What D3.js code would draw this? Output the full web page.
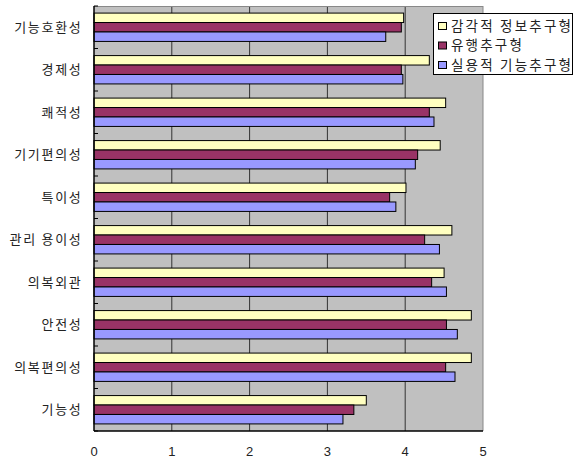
<!DOCTYPE html>
<html>
<head>
<meta charset="utf-8">
<script src="https://cdn.jsdelivr.net/npm/d3@7"></script>
<style>
  body { margin: 0; background: #fff; }
  text { font-family: "Noto Sans CJK KR", "Noto Sans", sans-serif; fill: #222; }
</style>
</head>
<body>
<svg id="chart"></svg>
<script>
// data, top to bottom as drawn
const categories = ["기능호환성", "경제성", "쾌적성", "기기편의성", "특이성", "관리 용이성", "의복외관", "안전성", "의복편의성", "기능성"];
const seriesNames = ["감각적 정보추구형", "유행추구형", "실용적 기능추구형"];
const sensory = [3.98, 4.31, 4.52, 4.45, 4.01, 4.60, 4.50, 4.85, 4.85, 3.50];
const trend = [3.95, 3.95, 4.31, 4.16, 3.80, 4.25, 4.34, 4.53, 4.52, 3.34];
const practical = [3.75, 3.97, 4.37, 4.13, 3.88, 4.44, 4.53, 4.67, 4.64, 3.20];
const xTicks = [0, 1, 2, 3, 4, 5];

const colors = ["#FFFFC0", "#993366", "#9999FF"];
const seriesValues = [sensory, trend, practical];

const width = 579, height = 463;
const margin = { left: 94, right: 96, top: 6, bottom: 32 };
const visWidth = width - margin.left - margin.right;
const visHeight = height - margin.top - margin.bottom;

const svg = d3.select('svg#chart').attr('width', width).attr('height', height);
const viz = svg.append('g').attr('transform', 'translate(' + margin.left + ',' + margin.top + ')');

const x = d3.scaleLinear().domain([0, 5]).range([0, visWidth]);
const y = d3.scaleBand().domain(categories).range([0, visHeight]).paddingInner(0.333).paddingOuter(0.1667);
const ySub = d3.scaleBand().domain(seriesNames).range([0, y.bandwidth()]);

// plot background
viz.append('rect').attr('x', 0).attr('y', 0).attr('width', visWidth).attr('height', visHeight)
  .attr('fill', '#C0C0C0');

// gridlines
viz.selectAll('line.grid').data(xTicks.slice(1)).enter().append('line')
  .attr('class', 'grid')
  .attr('x1', d => x(d)).attr('x2', d => x(d))
  .attr('y1', 0).attr('y2', visHeight)
  .attr('stroke', d => d === 5 ? '#888' : '#333').attr('stroke-width', 1);

// top border
viz.append('line').attr('x1', 0).attr('x2', visWidth).attr('y1', 0.5).attr('y2', 0.5)
  .attr('stroke', '#888');

// bars
const groups = viz.selectAll('g.cat').data(categories).enter().append('g')
  .attr('class', 'cat')
  .attr('transform', d => 'translate(0,' + y(d) + ')');

groups.selectAll('rect').data((c, i) => seriesNames.map((s, j) => ({ s: s, v: seriesValues[j][i], j: j })))
  .enter().append('rect')
  .attr('x', 0)
  .attr('y', d => ySub(d.s))
  .attr('width', d => x(d.v))
  .attr('height', ySub.bandwidth())
  .attr('fill', d => colors[d.j])
  .attr('stroke', '#000').attr('stroke-width', 1);

// left axis with inside ticks at category boundaries
viz.append('line').attr('x1', 0).attr('x2', 0).attr('y1', 0).attr('y2', visHeight)
  .attr('stroke', '#000').attr('stroke-width', 1.5);
const step = visHeight / categories.length;
viz.selectAll('line.ytick').data(d3.range(categories.length + 1)).enter().append('line')
  .attr('class', 'ytick')
  .attr('x1', 0).attr('x2', 4)
  .attr('y1', d => d * step).attr('y2', d => d * step)
  .attr('stroke', '#000');

viz.selectAll('text.cat').data(categories).enter().append('text')
  .attr('class', 'cat')
  .attr('x', -11.5)
  .attr('y', d => y(d) + y.bandwidth() / 2)
  .attr('dy', '0.35em')
  .attr('text-anchor', 'end')
  .style('font-size', '13px')
  .style('letter-spacing', '1.7px')
  .text(d => d);

// bottom axis
viz.append('line').attr('x1', 0).attr('x2', visWidth).attr('y1', visHeight).attr('y2', visHeight)
  .attr('stroke', '#000').attr('stroke-width', 1.5);
viz.selectAll('text.xt').data(xTicks).enter().append('text')
  .attr('class', 'xt')
  .attr('x', d => x(d))
  .attr('y', visHeight + 25)
  .attr('text-anchor', 'middle')
  .style('font-family', '"Liberation Sans", Arial, sans-serif')
  .style('font-size', '13px')
  .text(d => d);

// legend
const legend = svg.append('g').attr('transform', 'translate(433,13)');
legend.append('rect').attr('x', 0.5).attr('y', 0.5).attr('width', 139).attr('height', 61)
  .attr('fill', '#fff').attr('stroke', '#000');
const item = legend.selectAll('g.item').data(seriesNames).enter().append('g')
  .attr('class', 'item')
  .attr('transform', (d, i) => 'translate(5,' + (13 + i * 19.5) + ')');
item.append('rect').attr('x', 0.5).attr('y', -3.5).attr('width', 8).attr('height', 7)
  .attr('fill', (d, i) => colors[i]).attr('stroke', '#000');
item.append('text').attr('x', 13).attr('y', 0).attr('dy', '0.35em')
  .style('font-size', '13.5px')
  .style('letter-spacing', '2.2px')
  .text(d => d);
</script>
</body>
</html>
